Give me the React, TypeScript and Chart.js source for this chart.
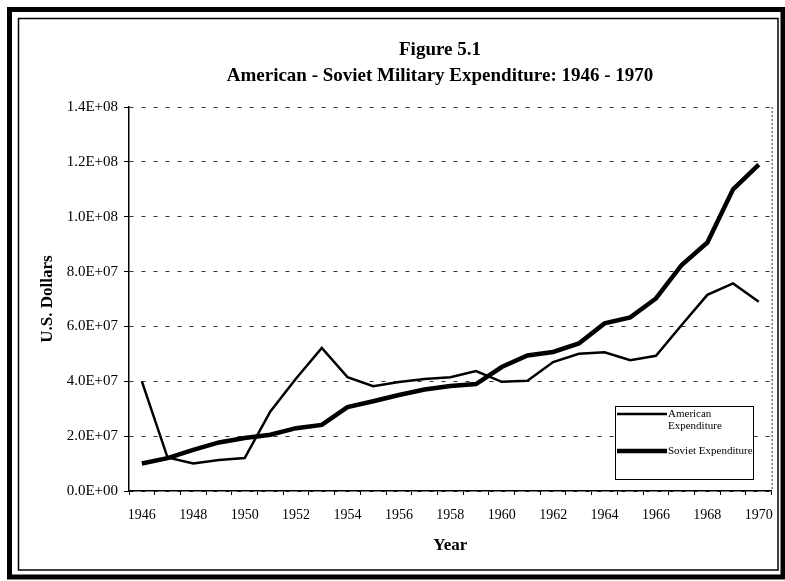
import React, { useEffect, useRef } from "react";
import { Chart, registerables } from "chart.js";

Chart.register(...registerables);

const years = [
  "1946", "1947", "1948", "1949", "1950", "1951", "1952", "1953", "1954", "1955",
  "1956", "1957", "1958", "1959", "1960", "1961", "1962", "1963", "1964", "1965",
  "1966", "1967", "1968", "1969", "1970",
];

const american = [
  4.0e7, 1.22e7, 1.0e7, 1.13e7, 1.2e7, 2.9e7, 4.1e7, 5.22e7, 4.15e7, 3.82e7,
  3.97e7, 4.08e7, 4.15e7, 4.37e7, 3.98e7, 4.02e7, 4.7e7, 5.0e7, 5.06e7, 4.77e7,
  4.93e7, 6.05e7, 7.15e7, 7.57e7, 6.9e7,
];

const soviet = [
  1.0e7, 1.2e7, 1.5e7, 1.77e7, 1.93e7, 2.05e7, 2.29e7, 2.41e7, 3.06e7, 3.27e7,
  3.5e7, 3.7e7, 3.83e7, 3.9e7, 4.52e7, 4.94e7, 5.07e7, 5.38e7, 6.11e7, 6.33e7,
  7.02e7, 8.24e7, 9.06e7, 1.1e8, 1.19e8,
];

const seriesNames = ["American Expenditure", "Soviet Expenditure"];
const legendLines = [["American", "Expenditure"], ["Soviet Expenditure"]];
const titleLines = ["Figure 5.1", "American - Soviet Military Expenditure: 1946 - 1970"];
const yAxisTitle = "U.S. Dollars";
const xAxisTitle = "Year";
const yMin = 0;
const yMax = 1.4e8;
const yStep = 2e7;

const FONT = '"Liberation Serif", "Times New Roman", serif';

function fmtExp(v: number): string {
  if (v === 0) return "0.0E+00";
  const e = Math.floor(Math.log10(Math.abs(v)) + 1e-9);
  const m = v / Math.pow(10, e);
  const sign = e < 0 ? "-" : "+";
  return m.toFixed(1) + "E" + sign + String(Math.abs(e)).padStart(2, "0");
}

const decorPlugin = {
  id: "decor",
  beforeDraw(chart: any) {
    const ctx = chart.ctx as CanvasRenderingContext2D;
    ctx.save();
    ctx.fillStyle = "#fff";
    ctx.fillRect(0, 0, chart.width, chart.height);
    ctx.strokeStyle = "#000";
    ctx.lineWidth = 5;
    ctx.strokeRect(9.5, 9.5, 773.5, 567.5);
    ctx.lineWidth = 1.5;
    ctx.strokeRect(18.5, 18.5, 759.5, 551.5);
    ctx.fillStyle = "#000";
    ctx.font = "bold 19px " + FONT;
    ctx.textAlign = "center";
    ctx.textBaseline = "middle";
    ctx.fillText(titleLines[0], 440, 50);
    ctx.fillText(titleLines[1], 440, 76);
    ctx.restore();
  },
  afterDraw(chart: any) {
    const ctx = chart.ctx as CanvasRenderingContext2D;
    const area = chart.chartArea;
    ctx.save();
    // dashed right border of plot area
    ctx.strokeStyle = "#333";
    ctx.lineWidth = 1;
    ctx.setLineDash([2, 2]);
    ctx.beginPath();
    ctx.moveTo(area.right + 0.5, area.top);
    ctx.lineTo(area.right + 0.5, area.bottom);
    ctx.stroke();
    ctx.setLineDash([]);

    // legend box
    const bx = 615, by = 406, bw = 138, bh = 73;
    ctx.fillStyle = "#fff";
    ctx.fillRect(bx, by, bw, bh);
    ctx.strokeStyle = "#000";
    ctx.lineWidth = 1;
    ctx.strokeRect(bx + 0.5, by + 0.5, bw, bh);
    const rows = [414, 451];
    chart.data.datasets.forEach((ds: any, i: number) => {
      const y = rows[i];
      ctx.strokeStyle = ds.borderColor;
      ctx.lineWidth = ds.borderWidth;
      ctx.beginPath();
      ctx.moveTo(bx + 2, y);
      ctx.lineTo(bx + 52, y);
      ctx.stroke();
      ctx.fillStyle = "#000";
      ctx.font = "11px " + FONT;
      ctx.textAlign = "left";
      ctx.textBaseline = "middle";
      legendLines[i].forEach((t, j) => {
        ctx.fillText(t, bx + 53, y + j * 12);
      });
    });
    ctx.restore();
  },
};

export default function App() {
  const canvasRef = useRef<HTMLCanvasElement | null>(null);

  useEffect(() => {
    if (!canvasRef.current) return;
    const chart = new Chart(canvasRef.current, {
      type: "line",
      data: {
        labels: years,
        datasets: [
          {
            label: seriesNames[0],
            data: american,
            borderColor: "#000",
            backgroundColor: "#000",
            borderWidth: 2.5,
            pointRadius: 0,
            tension: 0,
            fill: false,
          },
          {
            label: seriesNames[1],
            data: soviet,
            borderColor: "#000",
            backgroundColor: "#000",
            borderWidth: 4.5,
            pointRadius: 0,
            tension: 0,
            fill: false,
          },
        ],
      },
      options: {
        responsive: false,
        animation: false,
        devicePixelRatio: 1,
        layout: { padding: { left: 18, right: 11, top: 107, bottom: 20 } },
        plugins: {
          legend: { display: false },
          title: { display: false },
          tooltip: { enabled: false },
        },
        scales: {
          x: {
            type: "category",
            offset: true,
            afterFit: (scale: any) => {
              scale.height = 70;
            },
            grid: {
              display: true,
              drawOnChartArea: false,
              drawTicks: true,
              tickLength: 4,
              tickColor: "#000",
              offset: true,
            },
            border: { display: true, color: "#000", width: 1.5 },
            ticks: {
              autoSkip: false,
              maxRotation: 0,
              minRotation: 0,
              padding: 12,
              color: "#000",
              font: { family: FONT, size: 14 },
              callback: function (this: any, val: any, idx: number) {
                return idx % 2 === 0 ? this.getLabelForValue(val) : "";
              },
            },
            title: {
              display: true,
              text: xAxisTitle,
              color: "#000",
              font: { family: FONT, size: 17, weight: "bold" },
              padding: { top: 0, bottom: 5 },
            },
          },
          y: {
            min: yMin,
            max: yMax,
            afterFit: (scale: any) => {
              scale.width = 111;
            },
            grid: {
              color: "#333",
              lineWidth: 1,
              drawTicks: true,
              tickLength: 5,
              tickColor: "#000",
              tickBorderDash: [],
            },
            border: { display: true, color: "#000", width: 1.5, dash: [4, 8] },
            ticks: {
              stepSize: yStep,
              padding: 6,
              color: "#000",
              font: { family: FONT, size: 15 },
              callback: (v: any) => fmtExp(Number(v)),
            },
            title: {
              display: true,
              text: yAxisTitle,
              color: "#000",
              font: { family: FONT, size: 17, weight: "bold" },
              padding: { top: 19, bottom: 0 },
            },
          },
        },
      },
      plugins: [decorPlugin],
    } as any);
    return () => chart.destroy();
  }, []);

  return (
    <div style={{ position: "absolute", left: 0, top: 0, width: 785, height: 581 }}>
      <canvas ref={canvasRef} width={785} height={581} style={{ display: "block" }} />
    </div>
  );
}
